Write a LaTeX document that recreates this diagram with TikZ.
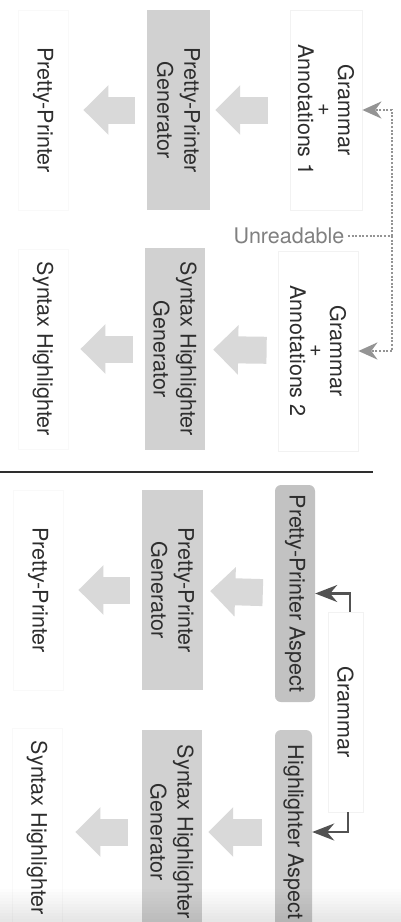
\documentclass[tikz,border=0pt]{standalone}
\usepackage{fontspec}
\setmainfont{TeX Gyre Heros}
\usetikzlibrary{arrows.meta}
\begin{document}
\begin{tikzpicture}[x=1pt,y=-1pt,
  txt/.style={font=\fontsize{21.5}{27}\selectfont, text=black!82},
  caption/.style={label={[txt, rotate=-90, align=center]center:#1}},
  plainbox/.style={draw=black!5, line width=0.8pt, inner sep=0pt},
  outbox/.style={draw=black!2.5, line width=0.8pt, inner sep=0pt},
  genbox/.style={fill=black!18, inner sep=0pt},
  aspectbox/.style={fill=black!24, rounded corners=6pt, inner sep=0pt},
  flow/.style={draw=black!15, line width=27pt, -{Triangle[length=25pt,width=48pt]}},
  dotline/.style={draw=black!42, line width=2.4pt, dash pattern=on 2pt off 1.6pt,
                  -{Stealth[length=19pt,width=17pt]}},
  elbow/.style={draw=black!68, line width=2.2pt, -{Stealth[length=22pt,width=17pt]}}]

\useasboundingbox (0,0) rectangle (401,922);
\fill[white] (0,0) rectangle (401,922);

% ---------- annotated grammars: one per tool ----------
\node[plainbox, minimum width=72pt, minimum height=200pt,
      caption={{Grammar\\[-7pt]+\\[-7pt]Annotations 1}}] (ann1) at (326,110) {};
\node[genbox, minimum width=63pt, minimum height=200pt,
      caption={{Pretty-Printer\\Generator}}] (ppgen1) at (178.5,110) {};
\node[outbox, minimum width=50pt, minimum height=200pt,
      caption={Pretty-Printer}] (pp1) at (43,110) {};

\node[plainbox, minimum width=80pt, minimum height=200pt,
      caption={{Grammar\\[-7pt]+\\[-7pt]Annotations 2}}] (ann2) at (318,351) {};
\node[genbox, minimum width=60pt, minimum height=202pt,
      caption={{Syntax Highlighter\\Generator}}] (shgen1) at (175,349) {};
\node[outbox, minimum width=50pt, minimum height=200pt,
      caption={Syntax Highlighter}] (sh1) at (43,349) {};

\draw[flow, shorten <=22pt, shorten >=5pt] (ann1) -- (ppgen1);
\draw[flow, shorten <=12pt, shorten >=15pt] (ppgen1) -- (pp1);
\draw[flow, shorten <=11pt, shorten >=8pt] (ann2) -- (shgen1);
\draw[flow, shorten <=12pt, shorten >=12pt] (shgen1) -- (sh1);

\node[txt, text=black!50] (unread) at (289,236) {Unreadable};
\coordinate (jn) at (392,236);
\draw[dotline, -] (unread.east) -- (jn);
\draw[dotline] (jn) |- (ann1.east);
\draw[dotline] (jn) |- (ann2.east);

% ---------- separator ----------
\draw[line width=2.6pt, black!82] (0,472) -- (373,472);

% ---------- one grammar, separate aspects ----------
\node[aspectbox, minimum width=40pt, minimum height=217pt,
      caption={Pretty-Printer Aspect}] (ppasp) at (295,593.5) {};
\node[plainbox, minimum width=35pt, minimum height=200pt,
      caption={Grammar}] (gram) at (345.5,712) {};
\node[aspectbox, fill=black!21, minimum width=37pt, minimum height=204pt,
      caption={Highlighter Aspect}] (hlasp) at (293.5,832) {};

\node[genbox, minimum width=61pt, minimum height=200pt,
      caption={{Pretty-Printer\\Generator}}] (ppgen2) at (172.5,590) {};
\node[outbox, minimum width=50pt, minimum height=200pt,
      caption={Pretty-Printer}] (pp2) at (38,590) {};

\node[genbox, minimum width=60pt, minimum height=204pt,
      caption={{Syntax Highlighter\\Generator}}] (shgen2) at (172,832) {};
\node[outbox, minimum width=50pt, minimum height=200pt,
      caption={Syntax Highlighter}] (sh2) at (37,828) {};

\draw[elbow] ([xshift=4.5pt]gram.north) |- (ppasp.east);
\draw[elbow] ([xshift=2.5pt]gram.south) |- (hlasp.east);

\draw[flow, shorten <=12pt, shorten >=7pt] (ppasp) -- (ppgen2);
\draw[flow, shorten <=12pt, shorten >=15pt] (ppgen2) -- (pp2);
\draw[flow, shorten <=13pt, shorten >=6pt] (hlasp.west) -- (shgen2.east);
\draw[flow, shorten <=14pt, shorten >=13pt] (shgen2.west) -- (sh2.east |- shgen2.west);

% faint darkening along the lower edge
\foreach \i in {0,...,11}
  \fill[black, fill opacity=0.009*\i] (0,886+3*\i) rectangle (401,889+3*\i);
\end{tikzpicture}
\end{document}
